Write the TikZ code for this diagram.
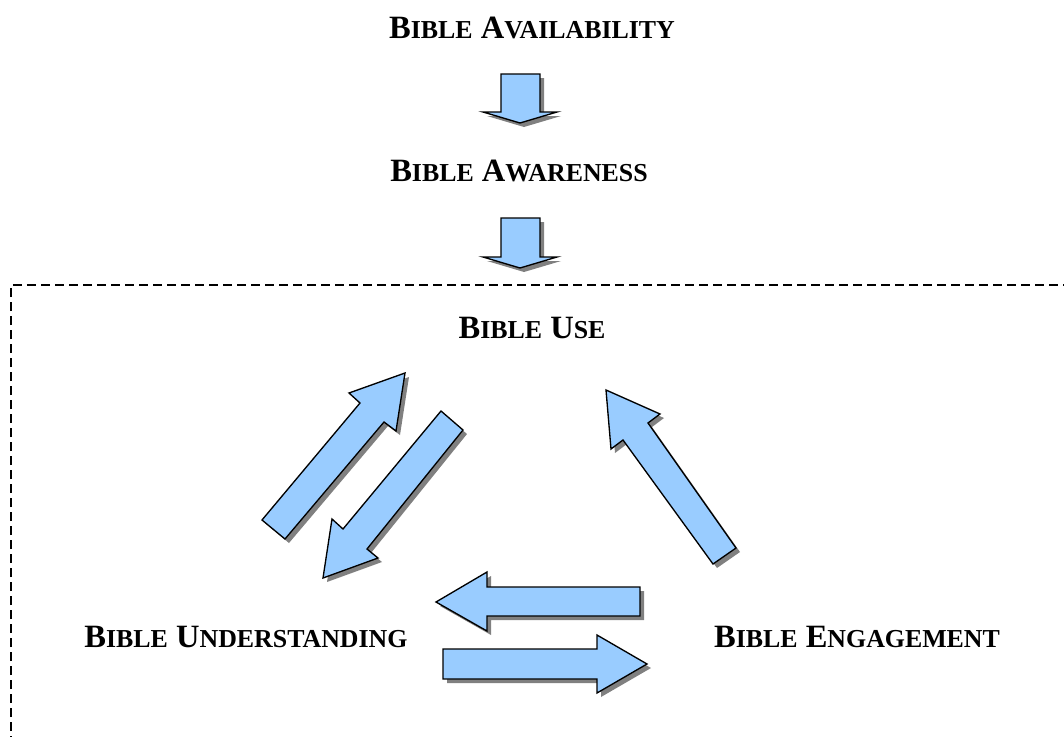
\documentclass[tikz,border=0pt]{standalone}
\usepackage{fontspec}
\setmainfont{Liberation Serif}
\usetikzlibrary{shadows}
\newcommand\mysc[1]{{\fontsize{19.4pt}{22pt}\selectfont #1}}
\definecolor{arrowblue}{HTML}{99CCFF}
\tikzset{
  lbl/.style={font=\fontsize{24.4pt}{28pt}\selectfont\bfseries, anchor=base, inner sep=0pt},
  barrow/.style={draw=black, line width=1pt, line join=miter, fill=arrowblue,
    drop shadow={shadow xshift=3pt, shadow yshift=-3pt, fill=black!50, opacity=1}},
  frame/.style={draw=black, line width=1.5pt, dash pattern=on 6.5pt off 4pt}
}
\begin{document}
\begin{tikzpicture}[x=0.75pt, y=-0.75pt]
\useasboundingbox (0,0) rectangle (1064,736);
\clip (0,0) rectangle (1064,736);
% frame
\draw[frame] (11,745) -- (11,285) -- (1075,285);
% labels
\node[lbl] (avail) at (532,38) {B\mysc{IBLE} A\mysc{VAILABILITY}};
\node[lbl] (aware) at (519,181) {B\mysc{IBLE} A\mysc{WARENESS}};
\node[lbl] (use) at (532,338) {B\mysc{IBLE} U\mysc{SE}};
\node[lbl] (under) at (246,647) {B\mysc{IBLE} U\mysc{NDERSTANDING}};
\node[lbl] (engage) at (857,647) {B\mysc{IBLE} E\mysc{NGAGEMENT}};
% down arrows
\path[barrow] (501,74) -- (540,74) -- (540,112) -- (557,112) -- (520,123) -- (483,112) -- (501,112) -- cycle;
\path[barrow] (501,218) -- (540,218) -- (540,257) -- (557,257) -- (520,268) -- (483,257) -- (501,257) -- cycle;
% understanding -> use
\path[barrow] (262,520) -- (360,403) -- (349,393) -- (405,373) -- (396,431) -- (384,422) -- (285,539) -- cycle;
% use -> understanding
\path[barrow] (441,411) -- (463,430) -- (367,549) -- (378,558) -- (323,578) -- (332,519) -- (343,529) -- cycle;
% engagement -> use
\path[barrow] (713,564) -- (623,440) -- (611,449) -- (606,390) -- (660,414) -- (648,423) -- (736,548) -- cycle;
% engagement -> understanding
\path[barrow] (640,587) -- (487,587) -- (487,572) -- (436,602) -- (487,631) -- (487,616) -- (640,616) -- cycle;
% understanding -> engagement
\path[barrow] (443,649) -- (597,649) -- (597,635) -- (647,664) -- (597,693) -- (597,679) -- (443,679) -- cycle;
\end{tikzpicture}
\end{document}
